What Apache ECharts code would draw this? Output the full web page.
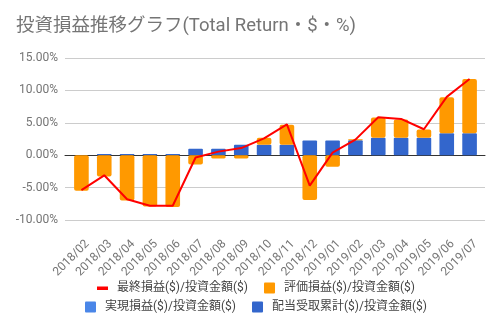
<!DOCTYPE html>
<html>
<head>
<meta charset="utf-8">
<script src="https://cdn.jsdelivr.net/npm/echarts@6/dist/echarts.min.js"></script>
<style>
html,body{margin:0;padding:0;background:#fff;}
#c{width:501px;height:326px;}
</style>
</head>
<body>
<div id="c"></div>
<script>
var categories = ['2018/02','2018/03','2018/04','2018/05','2018/06','2018/07','2018/08','2018/09','2018/10','2018/11','2018/12','2019/01','2019/02','2019/03','2019/04','2019/05','2019/06','2019/07'];
// values in percent
var finalReturn = [-5.4, -3.1, -6.8, -7.8, -7.8, -0.35, 0.55, 1.1, 2.6, 4.75, -4.7, 0.4, 2.4, 5.85, 5.6, 4.0, 9.0, 11.75];
var unrealized = [-5.5, -3.3, -7.0, -7.9, -8.0, -1.45, -0.5, -0.5, 1.1, 3.1, -6.9, -1.8, 0.15, 3.1, 2.8, 1.25, 5.55, 8.35];
var realized = [0, 0, 0, 0, 0, 0, 0, 0, 0, 0, 0, 0, 0, 0, 0, 0, 0, 0];
var dividends = [0, 0.2, 0.2, 0.2, 0.2, 1.0, 1.0, 1.6, 1.6, 1.6, 2.25, 2.25, 2.3, 2.7, 2.7, 2.7, 3.4, 3.4];
var yTicks = [-10, -5, 0, 5, 10, 15];

var names = ['最終損益($)/投資金額($)','評価損益($)/投資金額($)','実現損益($)/投資金額($)','配当受取累計($)/投資金額($)'];
var FONT = 'Roboto, "Noto Sans CJK JP", sans-serif';

var chart = echarts.init(document.getElementById('c'), null, {renderer:'canvas'});
var lineIcon = 'path://M0,0h0.01v0.01H0zM0,4h11v3.5H0zM11,11h0.01v0.01h-0.01z';
var sqIcon = 'path://M1,0h9a1,1 0 0 1 1,1v9a1,1 0 0 1 -1,1h-9a1,1 0 0 1 -1,-1v-9a1,1 0 0 1 1,-1z';

chart.setOption({
  animation:false,
  textStyle:{fontFamily:FONT},
  title:{
    text:'投資損益推移グラフ(Total Return・$・%)',
    left:11, top:12,
    textStyle:{fontFamily:FONT, fontSize:18.5, fontWeight:'normal', color:'#757575'}
  },
  legend:[{
    data:[{name:names[0], icon:lineIcon},{name:names[1], icon:sqIcon}],
    left:92, top:277, itemWidth:11, itemHeight:11, itemGap:16,
    textStyle:{fontFamily:FONT, fontSize:12, color:'#444', padding:[0,0,0,4]}
  },{
    data:[{name:names[2], icon:sqIcon},{name:names[3], icon:sqIcon}],
    left:80, top:296, itemWidth:11, itemHeight:11, itemGap:16,
    textStyle:{fontFamily:FONT, fontSize:12, color:'#444', padding:[0,0,0,4]}
  }],
  grid:[
    {left:65, right:16, top:58, bottom:106},
    {left:70, right:20, top:58, bottom:106},
    {left:76, right:14, top:58, bottom:106}
  ],
  xAxis:[{
    gridIndex:0, type:'value', min:0, max:1,
    axisLine:{show:true, onZero:true, lineStyle:{color:'#333', width:1}},
    axisTick:{show:false}, axisLabel:{show:false}, splitLine:{show:false}
  },{
    gridIndex:1, type:'category', data:categories,
    axisLine:{show:false, onZero:false}, axisTick:{show:false},
    axisLabel:{show:false}
  },{
    gridIndex:2, type:'category', data:categories,
    axisLine:{show:false, onZero:false}, axisTick:{show:false},
    axisLabel:{rotate:45, margin:22, fontSize:12, color:'#757575', fontFamily:FONT, interval:0}
  }],
  yAxis:[{
    gridIndex:0, type:'value', min:-10, max:15, interval:5,
    axisLine:{show:false}, axisTick:{show:false},
    axisLabel:{margin:7, fontSize:12, color:'#757575', fontFamily:FONT,
      formatter:function(v){return v.toFixed(2)+'%';}},
    splitLine:{lineStyle:{color:'#cccccc'}}
  },{
    gridIndex:1, type:'value', min:-10, max:15, interval:5,
    axisLine:{show:false}, axisTick:{show:false}, axisLabel:{show:false}, splitLine:{show:false}
  },{
    gridIndex:2, type:'value', min:-10, max:15, interval:5,
    axisLine:{show:false}, axisTick:{show:false}, axisLabel:{show:false}, splitLine:{show:false}
  }],
  series:[
    {name:'zero', type:'line', xAxisIndex:0, yAxisIndex:0, data:[], silent:true},
    {name:'labels', type:'line', xAxisIndex:2, yAxisIndex:2, data:[], silent:true},
    {name:names[3], type:'bar', xAxisIndex:1, yAxisIndex:1, stack:'t', data:dividends, barWidth:'64%',
      itemStyle:{color:'#3366cc', borderRadius:1}, z:2},
    {name:names[2], type:'bar', xAxisIndex:1, yAxisIndex:1, stack:'t', data:realized, barWidth:'64%',
      itemStyle:{color:'#4a86e8', borderRadius:1}, z:2},
    {name:names[1], type:'bar', xAxisIndex:1, yAxisIndex:1, stack:'t', data:unrealized, barWidth:'64%',
      itemStyle:{color:'#ff9900', borderRadius:2}, z:2},
    {name:names[0], type:'line', xAxisIndex:1, yAxisIndex:1, data:finalReturn,
      showSymbol:false, symbol:'none', lineStyle:{color:'#ff0000', width:2}, itemStyle:{color:'#ff0000'}, z:5}
  ]
});
</script>
</body>
</html>
